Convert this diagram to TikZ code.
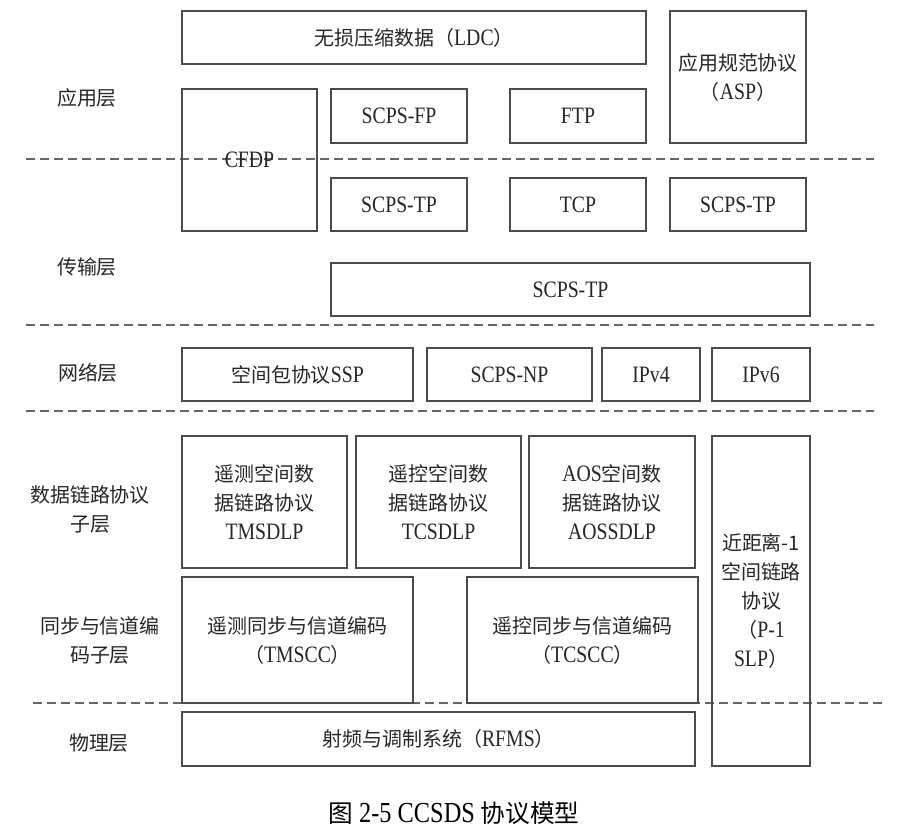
\documentclass[tikz,border=0pt]{standalone}
\usepackage{fontspec}
\setmainfont[FakeStretch=0.84]{Liberation Serif}
\newfontfamily\cjk[Scale=0.85]{Noto Sans CJK SC}
\newcommand{\zh}[1]{{\cjk #1}}
\begin{document}
\begin{tikzpicture}[x=1pt, y=-1pt,
    box/.style={draw=black!70, line width=1.2pt},
    layer/.style={draw=black!60, line width=1.6pt, dash pattern=on 9pt off 5pt},
    txt/.style={text=black!85, align=center, font=\fontsize{23.5}{29}\selectfont}]
    \useasboundingbox (0,0) rectangle (900,839);

    % layer borders
    \draw[layer] (26,159) -- (874,159);
    \draw[layer] (26,325) -- (874,325);
    \draw[layer] (26,411) -- (874,411);
    \draw[layer] (33,703) -- (885,703);

    % layer names
    \node[txt] (lapp) at (87,98) {\zh{应用层}};
    \node[txt] (ltrans) at (87,267) {\zh{传输层}};
    \node[txt] (lnet) at (88,373) {\zh{网络层}};
    \node[txt] (ldlp) at (90,509) {\zh{数据链路协议}\\\zh{子层}};
    \node[txt] (lsync) at (100,640) {\zh{同步与信道编}\\\zh{码子层}};
    \node[txt] (lphy) at (99,743) {\zh{物理层}};

    % application layer
    \draw[box] (182,11) rectangle (646,64);
    \node[txt] (ldc) at (414,37.5) {\zh{无损压缩数据（}LDC\zh{）}};
    \draw[box] (670,11) rectangle (806,143);
    \node[txt] (asp) at (738,77) {\zh{应用规范协议}\\\zh{（}ASP\zh{）}};
    \draw[box] (182,89) rectangle (317,231);
    \node[txt] (cfdp) at (249.5,160) {CFDP};
    \draw[box] (331,89) rectangle (467,143);
    \node[txt] (scpsfp) at (399,116) {SCPS-FP};
    \draw[box] (510,89) rectangle (646,143);
    \node[txt] (ftp) at (578,116) {FTP};

    % transport layer
    \draw[box] (331,178) rectangle (467,231);
    \node[txt] (tpa) at (399,204.5) {SCPS-TP};
    \draw[box] (510,178) rectangle (646,231);
    \node[txt] (tcp) at (578,204.5) {TCP};
    \draw[box] (670,178) rectangle (806,231);
    \node[txt] (tpb) at (738,204.5) {SCPS-TP};
    \draw[box] (331,263) rectangle (810,316);
    \node[txt] (tpwide) at (570.5,289.5) {SCPS-TP};

    % network layer
    \draw[box] (182,348) rectangle (413,401);
    \node[txt] (ssp) at (297.5,374.5) {\zh{空间包协议}SSP};
    \draw[box] (427,348) rectangle (592,401);
    \node[txt] (scpsnp) at (509.5,374.5) {SCPS-NP};
    \draw[box] (602,348) rectangle (700,401);
    \node[txt] (ipfour) at (651,374.5) {IPv4};
    \draw[box] (712,348) rectangle (810,401);
    \node[txt] (ipsix) at (761,374.5) {IPv6};

    % data link sublayer
    \draw[box] (182,436) rectangle (347,568);
    \node[txt] (tmsdlp) at (264.5,502) {\zh{遥测空间数}\\\zh{据链路协议}\\TMSDLP};
    \draw[box] (356,436) rectangle (521,568);
    \node[txt] (tcsdlp) at (438.5,502) {\zh{遥控空间数}\\\zh{据链路协议}\\TCSDLP};
    \draw[box] (529,436) rectangle (695,568);
    \node[txt] (aossdlp) at (612,502) {AOS\zh{空间数}\\\zh{据链路协议}\\AOSSDLP};
    \draw[box] (712,436) rectangle (810,766);
    \node[txt] (prox) at (761,601) {\zh{近距离-1}\\\zh{空间链路}\\\zh{协议}\\\zh{（}P-1\\SLP\zh{）}};

    % sync and coding sublayer
    \draw[box] (182,577) rectangle (413,703);
    \node[txt] (tmscc) at (297.5,640) {\zh{遥测同步与信道编码}\\\zh{（}TMSCC\zh{）}};
    \draw[box] (467,577) rectangle (698,703);
    \node[txt] (tcscc) at (582.5,640) {\zh{遥控同步与信道编码}\\\zh{（}TCSCC\zh{）}};

    % physical layer
    \draw[box] (182,712) rectangle (695,766);
    \node[txt] (rfms) at (438.5,739) {\zh{射频与调制系统（}RFMS\zh{）}};

    \node[text=black, font=\fontsize{29}{34}\selectfont] (caption) at (454,813) {\zh{图} 2-5 CCSDS \zh{协议模型}};
\end{tikzpicture}
\end{document}
